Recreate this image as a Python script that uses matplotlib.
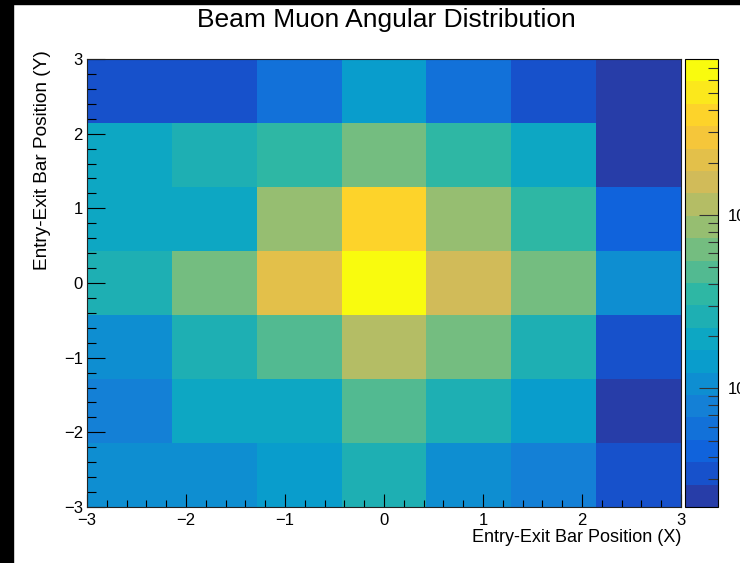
import numpy as np
import matplotlib
matplotlib.use("Agg")
import matplotlib.pyplot as plt
from matplotlib.colors import ListedColormap, LogNorm
from matplotlib.patches import Rectangle
from matplotlib.ticker import MultipleLocator, LogLocator, NullFormatter, FuncFormatter

plt.rcParams['font.family'] = ['Liberation Sans', 'DejaVu Sans']

# ---- data ----
title = "Beam Muon Angular Distribution"
xlabel = "Entry-Exit Bar Position (X)"
ylabel = "Entry-Exit Bar Position (Y)"
x_range = (-3, 3)
y_range = (-3, 3)
n_bins = 7
# counts, rows from bottom (Y=-3) to top (Y=+3), columns from X=-3 to X=+3
row0 = [11, 11, 14, 26, 11, 8, 3.2]
row1 = [8, 19, 19, 47, 26, 14, 2.4]
row2 = [11, 26, 47, 115, 63, 26, 3.2]
row3 = [26, 63, 210, 780, 155, 63, 11]
row4 = [19, 19, 85, 380, 85, 35, 4.4]
row5 = [19, 26, 35, 63, 35, 19, 2.4]
row6 = [3.2, 3.2, 5.9, 14, 5.9, 3.2, 2.4]
z_min = 2.07
z_max = 790
n_levels = 20

counts = np.array([row0, row1, row2, row3, row4, row5, row6])

# ---- ROOT kBird palette, 20 contour levels ----
stops = [0.0, 0.125, 0.25, 0.375, 0.5, 0.625, 0.75, 0.875, 1.0]
red = [0.2082, 0.0592, 0.0780, 0.0232, 0.1802, 0.5301, 0.8186, 0.9956, 0.9764]
green = [0.1664, 0.3599, 0.5041, 0.6419, 0.7178, 0.7492, 0.7328, 0.7862, 0.9832]
blue = [0.5293, 0.8684, 0.8385, 0.7914, 0.6425, 0.4662, 0.3499, 0.1968, 0.0539]
t = np.arange(255) / 254.0
pal = np.stack([np.interp(t, stops, red), np.interp(t, stops, green),
                np.interp(t, stops, blue)], axis=1)
idx = [int((i + 0.99) * 255 / n_levels) for i in range(n_levels)]
idx = [min(k, 254) for k in idx]
cmap = ListedColormap(pal[idx])
norm = LogNorm(vmin=z_min, vmax=z_max)

W, H = 740, 563
fig = plt.figure(figsize=(W / 100, H / 100), dpi=100)

def fx(px):
    return px / W

def fy(py):
    return 1 - py / H

L, R, T, B = 87, 681, 59, 507
ax = fig.add_axes([fx(L), fy(B), fx(R) - fx(L), fy(T) - fy(B)])
xe = np.linspace(x_range[0], x_range[1], n_bins + 1)
ye = np.linspace(y_range[0], y_range[1], n_bins + 1)
mesh = ax.pcolormesh(xe, ye, counts, cmap=cmap, norm=norm, shading='flat')
ax.set_xlim(*x_range)
ax.set_ylim(*y_range)

ax.xaxis.set_major_locator(MultipleLocator(1))
ax.xaxis.set_minor_locator(MultipleLocator(0.2))
ax.yaxis.set_major_locator(MultipleLocator(1))
ax.yaxis.set_minor_locator(MultipleLocator(0.2))
ax.tick_params(axis='both', which='both', direction='in', top=False, right=False,
               labelsize=12, color='black', width=0.8)
ax.tick_params(axis='x', which='major', length=9.4, pad=4)
ax.tick_params(axis='x', which='minor', length=4.7)
ax.tick_params(axis='y', which='major', length=13, pad=3)
ax.tick_params(axis='y', which='minor', length=6.5)
for s in ax.spines.values():
    s.set_linewidth(0.8)
    s.set_color('#222222')

# colorbar
cax = fig.add_axes([fx(685), fy(B), fx(718) - fx(685), fy(T) - fy(B)])
cb = fig.colorbar(mesh, cax=cax)
cb.outline.set_linewidth(0.8)
cax.yaxis.set_ticks_position('right')
cax.yaxis.set_major_locator(LogLocator(base=10))
cax.yaxis.set_minor_locator(LogLocator(base=10, subs=np.arange(2, 10)))
cax.yaxis.set_minor_formatter(NullFormatter())
sup = {1: '\u00b9', 2: '\u00b2', 3: '\u00b3'}
cax.yaxis.set_major_formatter(FuncFormatter(
    lambda v, p: '10' + sup.get(int(round(np.log10(v))), '')))
cax.tick_params(axis='y', which='both', direction='in', color='#333333', width=0.8,
                labelsize=12, pad=7)
cax.tick_params(axis='y', which='major', length=13.5)
cax.tick_params(axis='y', which='minor', length=7)

# texts
fig.text(fx(386), fy(20), title, ha='center', va='center', fontsize=19)
fig.text(fx(R), fy(538), xlabel, ha='right', va='center', fontsize=13)
fig.text(fx(43), fy(50), ylabel, ha='center', va='top', rotation=90, fontsize=13.7)

# black window edges
fig.patches.append(Rectangle((0, 0), fx(13), 1, transform=fig.transFigure,
                             color='black', zorder=10))
fig.patches.append(Rectangle((0, fy(4)), 1, 1 - fy(4), transform=fig.transFigure,
                             color='black', zorder=10))

fig.savefig('out.png', dpi=100)
